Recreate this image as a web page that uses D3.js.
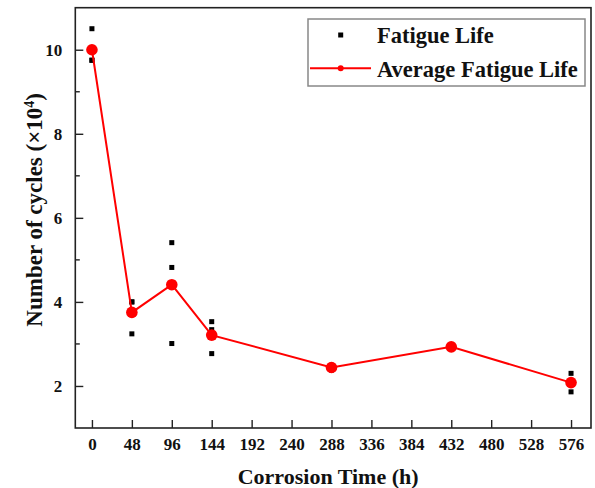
<!DOCTYPE html>
<html>
<head>
<meta charset="utf-8">
<script src="https://cdn.jsdelivr.net/npm/d3@7"></script>
<style>
  html, body { margin: 0; padding: 0; background: #fff; }
  svg { display: block; }
  text { font-family: "Liberation Serif", "Times New Roman", serif; font-weight: bold; fill: #111; }
</style>
</head>
<body>
<svg id="chart" width="595" height="488"></svg>
<script>
// Corrosion time (h) for each test group
const hours = [0, 48, 96, 144, 288, 432, 576];
// Individual fatigue-life results per group (×10^4 cycles)
const fatigueLife = [
  [10.50, 9.75, 9.75],
  [4.00, 4.00, 3.24],
  [5.41, 4.82, 3.01],
  [3.53, 3.34, 2.77],
  [2.38, 2.45, 2.49],
  [2.90, 2.93, 2.96],
  [2.30, 2.08, 1.86]
];
// Group averages (×10^4 cycles)
const averageLife = [10.00, 3.75, 4.41, 3.21, 2.44, 2.93, 2.08];
// Axis tick values
const xTicks = [0, 48, 96, 144, 192, 240, 288, 336, 384, 432, 480, 528, 576];
const yTicks = [2, 4, 6, 8, 10];
const yMinorTicks = [3, 5, 7, 9];
const legendLabels = ["Fatigue Life", "Average Fatigue Life"];

const svg = d3.select("#chart");
const plotLeft = 75.3, plotRight = 591, plotTop = 7.7, plotBottom = 428;

const x = d3.scaleLinear().domain([-20, 600]).range([plotLeft, plotRight]);
const y = d3.scaleLinear().domain([1, 11]).range([plotBottom, plotTop]);

// Axes with inward ticks
const xAxis = d3.axisBottom(x).tickValues(xTicks).tickSizeInner(-8).tickSizeOuter(0).tickPadding(10);
const yAxis = d3.axisLeft(y).tickValues(yTicks).tickSizeInner(-8).tickSizeOuter(0).tickPadding(13);

const gx = svg.append("g").attr("transform", `translate(0,${plotBottom})`).call(xAxis);
const gy = svg.append("g").attr("transform", `translate(${plotLeft},0)`).call(yAxis);
[gx, gy].forEach(g => {
  g.select(".domain").remove();
  g.selectAll(".tick line").attr("stroke", "#222").attr("stroke-width", 1.4);
  g.selectAll(".tick text").style("font-size", "17px").attr("fill", "#111");
});

// Minor ticks on the y axis
svg.append("g").selectAll("line").data(yMinorTicks).join("line")
  .attr("x1", plotLeft).attr("x2", plotLeft + 4.5)
  .attr("y1", d => y(d)).attr("y2", d => y(d))
  .attr("stroke", "#222").attr("stroke-width", 1.4);

// Plot frame
svg.append("rect")
  .attr("x", plotLeft).attr("y", plotTop)
  .attr("width", plotRight - plotLeft).attr("height", plotBottom - plotTop)
  .attr("fill", "none").attr("stroke", "#222").attr("stroke-width", 1.6);

// Individual results
const points = [];
hours.forEach((h, i) => fatigueLife[i].forEach(v => points.push({ h, v })));
const sq = 5;
svg.append("g").selectAll("rect").data(points).join("rect")
  .attr("x", d => x(d.h) - sq / 2).attr("y", d => y(d.v) - sq / 2)
  .attr("width", sq).attr("height", sq).attr("fill", "#000");

// Average line with markers
const avg = hours.map((h, i) => ({ h, v: averageLife[i] }));
svg.append("path").datum(avg)
  .attr("fill", "none").attr("stroke", "#ff0000").attr("stroke-width", 2)
  .attr("d", d3.line().x(d => x(d.h)).y(d => y(d.v)));
svg.append("g").selectAll("circle").data(avg).join("circle")
  .attr("cx", d => x(d.h)).attr("cy", d => y(d.v)).attr("r", 5.8)
  .attr("fill", "#ff0000");

// Axis titles
svg.append("text")
  .attr("x", (plotLeft + plotRight) / 2 - 5).attr("y", 484)
  .attr("text-anchor", "middle").style("font-size", "22px")
  .text("Corrosion Time (h)");

const yt = svg.append("text")
  .attr("transform", `translate(42,${(plotTop + plotBottom) / 2 - 8}) rotate(-90)`)
  .attr("text-anchor", "middle").style("font-size", "23px");
yt.append("tspan").text("Number of cycles (×10");
yt.append("tspan").attr("dy", -8).style("font-size", "14px").text("4");
yt.append("tspan").attr("dy", 8).text(")");

// Legend
const lg = svg.append("g");
lg.append("rect").attr("x", 308).attr("y", 19).attr("width", 277).attr("height", 67)
  .attr("fill", "#fff").attr("stroke", "#888").attr("stroke-width", 1.5);
lg.append("rect").attr("x", 340.7 - sq / 2).attr("y", 35 - sq / 2)
  .attr("width", sq).attr("height", sq).attr("fill", "#000");
lg.append("line").attr("x1", 310).attr("x2", 371).attr("y1", 68.3).attr("y2", 68.3)
  .attr("stroke", "#ff0000").attr("stroke-width", 2);
lg.append("circle").attr("cx", 340.7).attr("cy", 68.3).attr("r", 3).attr("fill", "#ff0000");
lg.selectAll("text.lab").data(legendLabels).join("text")
  .attr("class", "lab")
  .attr("x", 377).attr("y", (d, i) => 43.3 + i * 33.4)
  .style("font-size", "22.5px").text(d => d);
</script>
</body>
</html>
